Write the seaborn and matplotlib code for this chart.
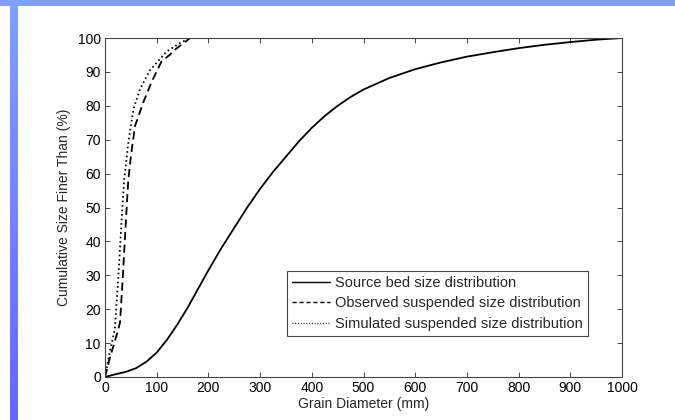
import numpy as np
import pandas as pd
import matplotlib
matplotlib.use("Agg")
import matplotlib.pyplot as plt
import seaborn as sns

# Grain size distributions (grain diameter in mm, cumulative % finer)
source_d = [0, 20, 40, 60, 80, 100, 120, 140, 160, 180, 200, 225, 250, 275, 300,
            325, 350, 375, 400, 425, 450, 475, 500, 550, 600, 650, 700, 750, 800,
            850, 900, 950, 1000]
source_p = [0, 0.8, 1.5, 2.6, 4.5, 7.2, 11, 15.5, 20.5, 26, 31.5, 38, 44, 50, 55.5,
            60.5, 65, 69.5, 73.5, 77, 80, 82.6, 84.8, 88.2, 90.8, 92.8, 94.5, 95.8,
            97, 98, 98.8, 99.5, 100]

observed_d = [0, 10, 20, 29, 35, 40, 45, 50, 58, 74, 90, 109, 125, 139, 165]
observed_p = [0, 6, 11, 16, 31, 45, 58, 65, 74, 81, 87, 93, 95, 97, 100]

simulated_d = [0, 10, 19, 26, 32, 37, 45, 55, 68, 87, 119, 145, 164, 196]
simulated_p = [0, 8, 14, 30, 46, 58, 69, 79, 85, 90.5, 96, 98.5, 100, 100]

labels = ["Source bed size distribution",
          "Observed suspended size distribution",
          "Simulated suspended size distribution"]

x_ticks = list(range(0, 1001, 100))
y_ticks = list(range(0, 101, 10))

sns.set_style("ticks")
plt.rcParams["font.family"] = ["Liberation Sans", "DejaVu Sans"]
plt.rcParams["font.size"] = 10

fig = plt.figure(figsize=(6.75, 4.2), dpi=100)
fig.patch.set_facecolor("white")

# Slide-style decoration: top band and shaded left band
fig.patches.append(plt.Rectangle((0, 414 / 420), 1, 6 / 420, transform=fig.transFigure,
                                 facecolor="#80a0ff", edgecolor="none", zorder=0))
band = fig.add_axes([10 / 675, 0, 8 / 675, 414 / 420])
top_c = np.array([128, 160, 255]) / 255
bot_c = np.array([102, 102, 255]) / 255
t = np.linspace(0, 1, 256)[:, None]
grad = (top_c[None, :] * (1 - t) + bot_c[None, :] * t)[:, None, :]
band.imshow(grad, aspect="auto", extent=[0, 1, 0, 1])
band.set_axis_off()

ax = fig.add_axes([105 / 675, 43 / 420, 517 / 675, 339 / 420])

df_src = pd.DataFrame({"d": source_d, "p": source_p})
df_obs = pd.DataFrame({"d": observed_d, "p": observed_p})
df_sim = pd.DataFrame({"d": simulated_d, "p": simulated_p})

sns.lineplot(data=df_src, x="d", y="p", ax=ax, color="black", lw=1.3,
             label=labels[0], sort=False)
sns.lineplot(data=df_obs, x="d", y="p", ax=ax, color="black", lw=1.3,
             label=labels[1], sort=False)
sns.lineplot(data=df_sim, x="d", y="p", ax=ax, color="black", lw=1.3,
             label=labels[2], sort=False)
ax.lines[1].set_dashes([4.5, 2.5])
ax.lines[2].set_dashes([0.9, 1.6])

ax.set_xlim(0, 1000)
ax.set_ylim(0, 100)
ax.set_xticks(x_ticks)
ax.set_yticks(y_ticks)
ax.set_xlabel("Grain Diameter (mm)", fontsize=10, labelpad=1)
ax.set_ylabel("Cumulative Size Finer Than (%)", fontsize=10, labelpad=5)
ax.tick_params(direction="in", length=3.5, width=0.7, color="#444444",
               top=True, right=True, labelsize=10, pad=3, labelcolor="black")
for s in ax.spines.values():
    s.set_visible(True)
    s.set_color("#444444")
    s.set_linewidth(0.8)

leg = ax.legend(loc="lower left", bbox_to_anchor=(0.352, 0.121), borderaxespad=0,
                fancybox=False, edgecolor="#444444", framealpha=1, fontsize=10.5,
                handlelength=2.6, handletextpad=0.35, labelspacing=0.45,
                borderpad=0.35)
for h in leg.get_lines():
    h.set_linewidth(1.0)
leg.get_frame().set_linewidth(0.8)
leg.get_lines()[1].set_dashes([3, 2])
leg.get_lines()[2].set_dashes([0.6, 1.4])

fig.savefig("out.png", dpi=100, facecolor="white")
